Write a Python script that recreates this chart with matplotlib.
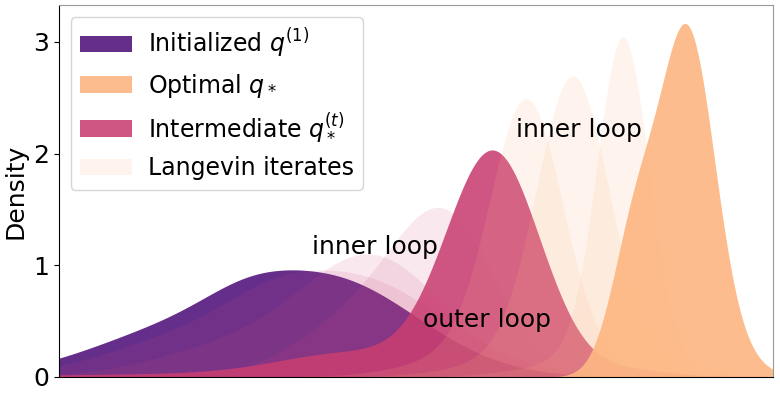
import matplotlib
matplotlib.use("Agg")
import matplotlib.pyplot as plt
import numpy as np

# each density is a sum of gaussian bumps: (height, centre, width)
init_bumps = [(0.85, 3.8, 1.25), (0.35, 1.5, 1.2), (0.12, 2.6, 0.6)]
inner1_bumps = [
    [(0.86, 4.15, 1.25), (0.32, 1.85, 1.2), (0.12, 2.95, 0.6)],
    [(1.05, 4.4, 1.0), (0.25, 2.4, 1.1)],
    [(1.25, 5.45, 0.7), (0.55, 4.3, 0.9)],
]
inter_bumps = [(2.0, 6.08, 0.66), (0.2, 4.1, 1.0), (0.03, 2.0, 2.0), (0.06, 8.0, 0.6)]
inner2_bumps = [
    [(2.2, 6.55, 0.5), (0.3, 6.3, 1.0)],
    [(2.45, 7.2, 0.5), (0.25, 7.0, 1.0)],
    [(2.85, 7.9, 0.36), (0.2, 7.7, 0.9)],
]
opt_bumps = [(3.0, 8.8, 0.38), (1.25, 8.07, 0.33), (0.15, 9.4, 0.4)]

labels = ["Initialized $q^{(1)}$", "Optimal $q_*$", "Intermediate $q_*^{(t)}$", "Langevin iterates"]
annotations = [("inner loop", 4.43, 1.16), ("outer loop", 6.0, 0.51), ("inner loop", 7.28, 2.21)]

purple = "#5c2284"
pink = "#c93f72"
pale_pink = "#cf4a7c"
orange = "#fdb783"

xs = np.linspace(0, 10, 1000)


def density(bumps):
    y = np.zeros_like(xs)
    for h, mu, sd in bumps:
        y += h * np.exp(-0.5 * ((xs - mu) / sd) ** 2)
    return y


fig, ax = plt.subplots(figsize=(7.8, 4.0), dpi=100)
fig.subplots_adjust(left=0.0756, right=0.991, top=0.9875, bottom=0.0575)

h_init = ax.fill_between(xs, density(init_bumps), color=purple, alpha=0.95, lw=0)
for b in inner1_bumps:
    ax.fill_between(xs, density(b), color=pale_pink, alpha=0.12, lw=0)
h_inter = ax.fill_between(xs, density(inter_bumps), color=pink, alpha=0.88, lw=0)
h_lang = None
for b in inner2_bumps:
    h_lang = ax.fill_between(xs, density(b), color=orange, alpha=0.14, lw=0)
h_opt = ax.fill_between(xs, density(opt_bumps), color=orange, alpha=0.92, lw=0)

for txt, x, y in annotations:
    ax.text(x, y, txt, fontsize=18, ha="center", va="center")

ax.legend([h_init, h_opt, h_inter, h_lang], labels, loc="upper left", fontsize=17,
          handlelength=2.2, handletextpad=0.65, borderaxespad=0.5)

ax.set_xlim(0, 10)
ax.set_ylim(0, 3.33)
ax.set_xticks([])
ax.set_yticks([0, 1, 2, 3])
ax.tick_params(axis="y", labelsize=18)
ax.set_ylabel("Density", fontsize=18)
for side in ["top", "right"]:
    ax.spines[side].set_color("#999999")

plt.savefig("out.png", dpi=100)
